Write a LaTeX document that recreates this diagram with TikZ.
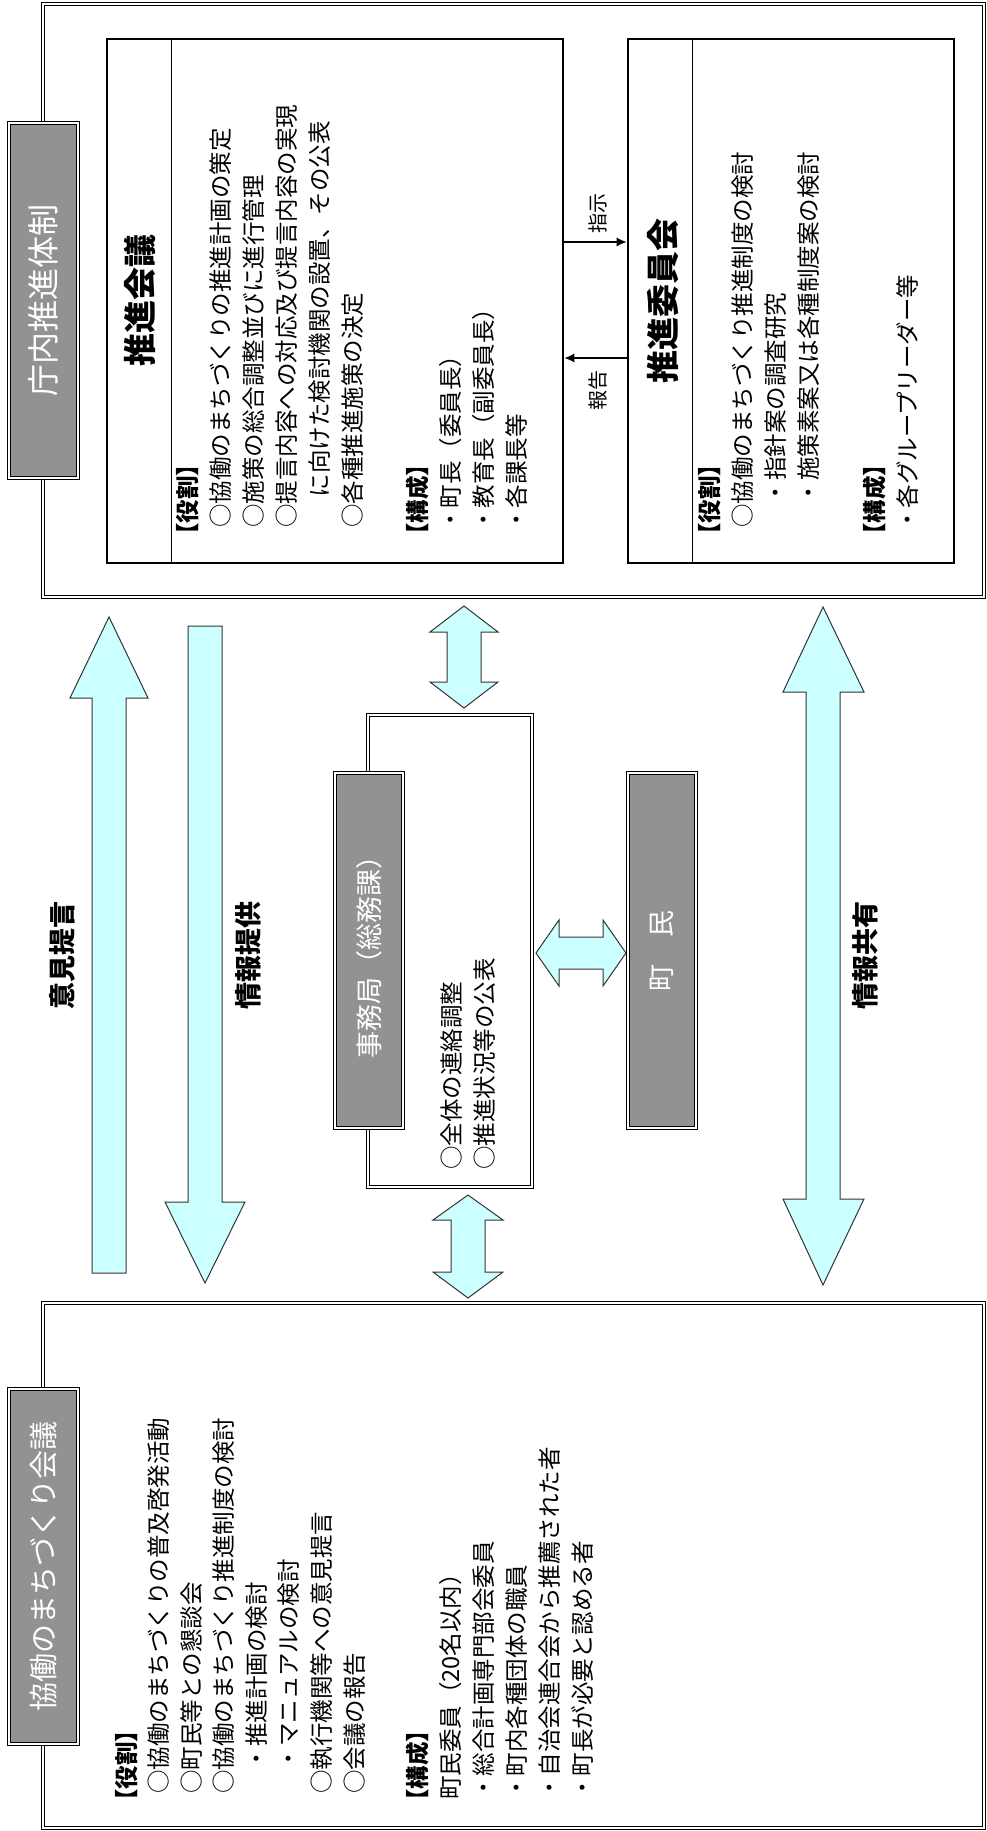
\documentclass[tikz,border=0pt]{standalone}
\usepackage{fontspec}
\setmainfont{Noto Sans CJK JP}
\usetikzlibrary{fit,arrows.meta}

\definecolor{tagGray}{RGB}{146,146,146}
\definecolor{arrowCyan}{RGB}{204,255,255}

\tikzset{
  outerframe/.style={draw, double, line width=0.5pt, double distance=1.2pt, inner sep=0},
  thickbox/.style={draw, line width=1.3pt, inner sep=0},
  graytag/.style={draw, double, line width=0.5pt, double distance=0.8pt, fill=tagGray,
    text=white, rotate=90, inner sep=0, minimum width=177.5pt},
  entry/.style={rotate=90, anchor=west, inner sep=0, font=\fontsize{11.75}{14}\selectfont},
  entryhead/.style={entry, font=\fontsize{11.75}{14}\selectfont\bfseries},
  boxtitle/.style={rotate=90, inner sep=0, font=\fontsize{16.5}{18}\selectfont\bfseries},
  flowlabel/.style={rotate=90, inner sep=0, font=\fontsize{13.5}{15}\selectfont\bfseries},
  linklabel/.style={rotate=90, inner sep=0, font=\fontsize{10}{12}\selectfont},
  blockarrow/.style={draw=black!80, line width=0.5pt, fill=arrowCyan, line join=miter},
  linkarrow/.style={line width=0.7pt, -{Latex[length=5pt,width=4.5pt]}},
}

\begin{document}
\begin{tikzpicture}[x=0.5pt, y=-0.5pt]
    \useasboundingbox (0,0) rectangle (986,1831);

    % frames
    \node[outerframe, fit={(43,4) (984,597)}] (chonai) {};
    \node[outerframe, fit={(43,1303) (984,1828)}] (kyodo) {};
    \node[outerframe, fit={(368,715) (532,1187)}] (jimu) {};

    % 推進会議 / 推進委員会
    \node[thickbox, fit={(107,39) (563,563)}] (kaigi) {};
    \node[thickbox, fit={(628,39) (954,563)}] (iinkai) {};
    \draw[line width=0.5pt] ([xshift=33pt]kaigi.north west) -- ([xshift=33pt]kaigi.south west);
    \draw[line width=0.5pt] ([xshift=33pt]iinkai.north west) -- ([xshift=33pt]iinkai.south west);
    \node[boxtitle] (kaigi-title) at (140,300) {推進会議};
    \node[boxtitle] (iinkai-title) at (663,301) {推進委員会};

    \coordinate (shiji) at (0,242);
    \coordinate (hokoku) at (0,358);
    \draw[linkarrow] (kaigi.east |- shiji) -- (iinkai.west |- shiji);
    \draw[linkarrow] (iinkai.west |- hokoku) -- (kaigi.east |- hokoku);
    \node[linklabel] (shiji-label) at (598,213) {指示};
    \node[linklabel] (hokoku-label) at (598,390) {報告};

    \node[entryhead] (kaigi-r0) at (188,547) {【役割】};
    \node[entry] (kaigi-r1) at (221,528) {○協働のまちづくりの推進計画の策定};
    \node[entry] (kaigi-r2) at (254,528) {○施策の総合調整並びに進行管理};
    \node[entry] (kaigi-r3) at (287,528) {○提言内容への対応及び提言内容の実現};
    \node[entry] (kaigi-r4) at (320,528) {\hspace*{1.3em}に向けた検討機関の設置、その公表};
    \node[entry] (kaigi-r5) at (353,528) {○各種推進施策の決定};
    \node[entryhead] (kaigi-m0) at (418,547) {【構成】};
    \node[entry] (kaigi-m1) at (451,532) {・町長（委員長）};
    \node[entry] (kaigi-m2) at (484,532) {・教育長（副委員長）};
    \node[entry] (kaigi-m3) at (517,532) {・各課長等};

    \node[entryhead] (iinkai-r0) at (710,547) {【役割】};
    \node[entry] (iinkai-r1) at (743,528) {○協働のまちづくり推進制度の検討};
    \node[entry] (iinkai-r2) at (776,528) {　・指針案の調査研究};
    \node[entry] (iinkai-r3) at (809,528) {　・施策素案又は各種制度案の検討};
    \node[entryhead] (iinkai-m0) at (875,547) {【構成】};
    \node[entry] (iinkai-m1) at (908,532) {・各グループリーダー等};

    % 事務局 / 町民
    \node[entry] (jimu-r1) at (452,1170) {○全体の連絡調整};
    \node[entry] (jimu-r2) at (485,1170) {○推進状況等の公表};

    % 協働のまちづくり会議
    \node[entryhead] (kyodo-r0) at (127,1813) {【役割】};
    \node[entry] (kyodo-r1) at (159,1794) {○協働のまちづくりの普及啓発活動};
    \node[entry] (kyodo-r2) at (192,1794) {○町民等との懇談会};
    \node[entry] (kyodo-r3) at (224,1794) {○協働のまちづくり推進制度の検討};
    \node[entry] (kyodo-r4) at (257,1794) {　・推進計画の検討};
    \node[entry] (kyodo-r5) at (289,1794) {　・マニュアルの検討};
    \node[entry] (kyodo-r6) at (322,1794) {○執行機関等への意見提言};
    \node[entry] (kyodo-r7) at (355,1794) {○会議の報告};
    \node[entryhead] (kyodo-m0) at (418,1813) {【構成】};
    \node[entry] (kyodo-m1) at (451,1800) {町民委員（20名以内）};
    \node[entry] (kyodo-m2) at (484,1800) {・総合計画専門部会委員};
    \node[entry] (kyodo-m3) at (517,1800) {・町内各種団体の職員};
    \node[entry] (kyodo-m4) at (550,1800) {・自治会連合会から推薦された者};
    \node[entry] (kyodo-m5) at (583,1800) {・町長が必要と認める者};

    % block arrows
    \draw[blockarrow] (109,617) -- (148,698) -- (126,698) -- (126,1273) -- (92,1273) -- (92,698) -- (70,698) -- cycle;
    \draw[blockarrow] (188,626) -- (222,626) -- (222,1202) -- (245,1202) -- (205,1283) -- (165,1202) -- (188,1202) -- cycle;
    \draw[blockarrow] (464,606) -- (498,632) -- (481,632) -- (481,682) -- (498,682) -- (464,708)
        -- (430,682) -- (447,682) -- (447,632) -- (430,632) -- cycle;
    \draw[blockarrow] (468,1195) -- (503,1220) -- (485,1220) -- (485,1272) -- (503,1272) -- (468,1298)
        -- (433,1272) -- (451,1272) -- (451,1220) -- (433,1220) -- cycle;
    \draw[blockarrow] (536,953) -- (559,920) -- (559,937) -- (603,937) -- (603,920) -- (626,953)
        -- (603,986) -- (603,969) -- (559,969) -- (559,986) -- cycle;
    \draw[blockarrow] (823,607) -- (864,692) -- (840,692) -- (840,1199) -- (864,1199) -- (823,1285)
        -- (783,1199) -- (806,1199) -- (806,692) -- (783,692) -- cycle;
    \node[flowlabel] (teigen) at (62,955) {意見提言};
    \node[flowlabel] (teikyo) at (248,955) {情報提供};
    \node[flowlabel] (kyoyu) at (865,955) {情報共有};

    % gray tags
    \node[graytag, minimum height=34.5pt, font=\fontsize{16}{18}\selectfont] (chonai-tag) at (43.5,300.5) {庁内推進体制};
    \node[graytag, minimum height=34.5pt, font=\fontsize{14.5}{16}\selectfont] (kyodo-tag) at (43.5,1566.5) {協働のまちづくり会議};
    \node[graytag, minimum height=34pt, font=\fontsize{13.5}{15}\selectfont] (jimu-tag) at (369,950.5) {事務局（総務課）};
    \node[graytag, minimum height=34pt, font=\fontsize{13.5}{15}\selectfont] (chomin) at (662,950.5) {町　民};
\end{tikzpicture}
\end{document}
